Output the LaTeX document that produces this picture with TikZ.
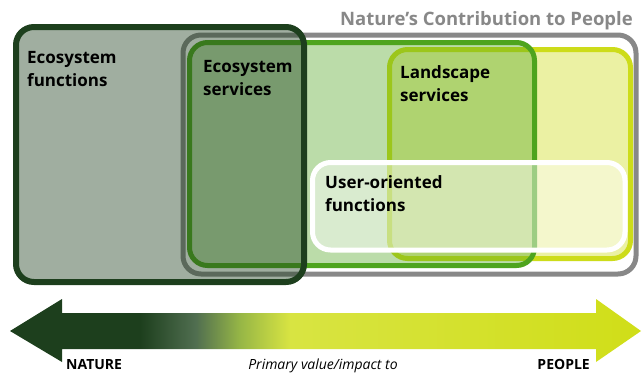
\documentclass[tikz,border=0pt]{standalone}
\usepackage{fontspec}
\setmainfont{Open Sans}
\usepackage{xcolor}
\usepackage{tikz}
\usetikzlibrary{positioning}

\definecolor{efdark}{RGB}{29,63,29}
\definecolor{ncpgray}{RGB}{136,136,136}
\definecolor{esgreen}{RGB}{78,164,30}
\definecolor{lsyellow}{RGB}{205,220,26}
\definecolor{midgreen}{RGB}{80,110,80}
\definecolor{lightolive}{RGB}{150,182,70}
\definecolor{paleyellow}{RGB}{216,228,66}
\definecolor{peopleyellow}{RGB}{208,222,24}

% stops between 25bp and 75bp, the part stretched over the arrow
\pgfdeclarehorizontalshading{naturetopeople}{100bp}{
  color(0bp)=(efdark); color(35.3bp)=(efdark); color(39.7bp)=(midgreen);
  color(43.2bp)=(lightolive); color(47.2bp)=(paleyellow); color(75bp)=(peopleyellow);
  color(100bp)=(peopleyellow)}

\begin{document}
\begin{tikzpicture}[
  x=1pt, y=-1pt,
  box/.style={rounded corners=18pt, line width=5pt},
  boxlabel/.style={anchor=base west, inner sep=0pt, align=left, font=\bfseries\fontsize{17}{23}\selectfont},
  axislabel/.style={inner sep=0pt, font=\bfseries\fontsize{14}{16}\selectfont}
]
  \useasboundingbox (0,0) rectangle (642,372);

  \draw[box, ncpgray, fill=white] (183,35) rectangle (636,274);
  \node[boxlabel, anchor=base east, text=ncpgray, font=\bfseries\fontsize{18.5}{22}\selectfont] (ncp) at (633,25) {Nature’s Contribution to People};

  \draw[box, lsyellow, fill=lsyellow, fill opacity=0.4] (389.5,49.5) rectangle (630.5,258.5);
  \draw[box, esgreen, fill=esgreen, fill opacity=0.38] (189.5,42.5) rectangle (534.5,265.5);
  \draw[box, white, fill=white, fill opacity=0.45] (312.5,162.5) rectangle (625,250);
  \draw[box, efdark, line width=6pt, fill=efdark, fill opacity=0.42] (16,27) rectangle (304,282);

  % anchors sit on the second line
  \node[boxlabel] (ef) at (27,86) {Ecosystem\\functions};
  \node[boxlabel] (es) at (203,95) {Ecosystem\\services};
  \node[boxlabel] (ls) at (400,101) {Landscape\\services};
  \node[boxlabel] (uof) at (325,211) {User-oriented\\functions};

  % value axis
  \shade[shading=naturetopeople] (10,331) -- (62,299) -- (62,313) -- (596,313) -- (596,299)
    -- (641,331) -- (596,362) -- (596,349) -- (62,349) -- (62,362) -- cycle;
  \node[axislabel, anchor=base west] (nature) at (66,369) {NATURE};
  \node[axislabel, anchor=base, font=\itshape\fontsize{14}{16}\selectfont] (impact) at (323,369) {Primary value/impact to};
  \node[axislabel, anchor=base east] (people) at (590,369) {PEOPLE};
\end{tikzpicture}
\end{document}
